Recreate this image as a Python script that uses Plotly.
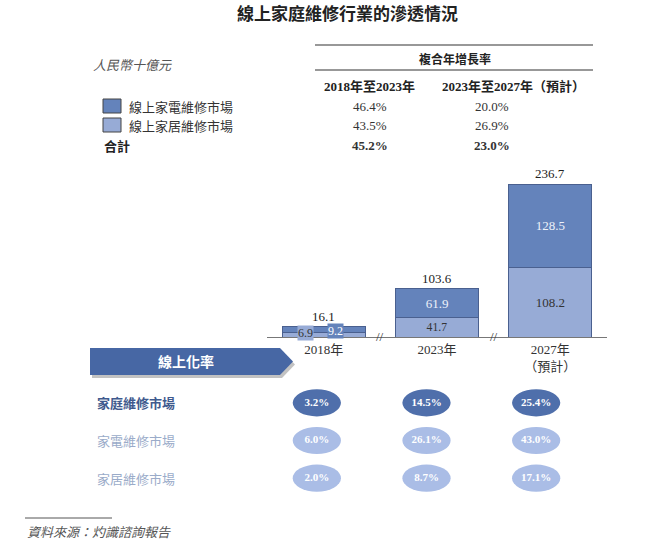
import plotly.graph_objects as go

# ---- data -------------------------------------------------------------
years = ['2018年', '2023年', '2027年']
year_ticks = ['2018年', '2023年', '2027年<br>（預計）']
appliance = [9.2, 61.9, 128.5]      # 線上家電維修市場 (upper segment)
home = [6.9, 41.7, 108.2]           # 線上家居維修市場 (lower segment)
totals = [16.1, 103.6, 236.7]

series_names = ['線上家電維修市場', '線上家居維修市場']
cagr_periods = ['2018年至2023年', '2023年至2027年（預計）']
cagr_appliance = ['46.4%', '20.0%']
cagr_home = ['43.5%', '26.9%']
cagr_total = ['45.2%', '23.0%']

rate_rows = ['家庭維修市場', '家電維修市場', '家居維修市場']
rate_values = [
    ['3.2%', '14.5%', '25.4%'],
    ['6.0%', '26.1%', '43.0%'],
    ['2.0%', '8.7%', '17.1%'],
]

# ---- style ------------------------------------------------------------
W, H = 660, 549
DARK = '#6483bb'
LIGHT = '#97abd6'
EDGE = '#4a608f'
ELL_DARK = '#4f6fab'
ELL_LIGHT = '#aabde6'
SERIF = 'Liberation Serif, Noto Sans CJK TC, serif'
SANS = 'Noto Sans CJK TC, sans-serif'
# per-bar axis ceilings (the chart uses a broken axis between years)
axis_max = [252.0, 336.0, 243.0]


def px(x):
    return x / W


def py(y):
    return 1 - y / H


fig = go.Figure()

# stacked bars, each year on its own (broken) value axis
yrefs = ['y', 'y2', 'y3']
for i, yr in enumerate(years):
    fig.add_trace(go.Bar(
        x=[yr], y=[home[i]], yaxis=yrefs[i], width=0.73,
        marker=dict(color=LIGHT, line=dict(color=EDGE, width=1)),
        text=[f'{home[i]:.1f}'] if i > 0 else None,
        textposition='inside', insidetextanchor='middle',
        textfont=dict(family=SERIF, size=13, color='#333333'),
        showlegend=False, hoverinfo='skip'))
    fig.add_trace(go.Bar(
        x=[yr], y=[appliance[i]], yaxis=yrefs[i], width=0.73,
        marker=dict(color=DARK, line=dict(color=EDGE, width=1)),
        text=[f'{appliance[i]:.1f}'] if i > 0 else None,
        textposition='inside', insidetextanchor='middle',
        textfont=dict(family=SERIF, size=13, color='#eef2fa'),
        showlegend=False, hoverinfo='skip'))

# online-rate text inside the ellipses
for r, row in enumerate(rate_values):
    fig.add_trace(go.Scatter(
        x=years, y=[r] * len(years), xaxis='x2', yaxis='y4',
        mode='text', text=[f'<b>{v}</b>' for v in row],
        textfont=dict(family=SERIF, size=11, color='white'),
        showlegend=False, hoverinfo='skip'))

shapes = []
annotations = []

# ellipses
for r, row in enumerate(rate_values):
    for i in range(len(years)):
        shapes.append(dict(
            type='circle', xref='x2', yref='y4',
            x0=i - 0.22, x1=i + 0.22, y0=r - 0.36, y1=r + 0.36,
            fillcolor=ELL_DARK if r == 0 else ELL_LIGHT,
            line=dict(width=0), layer='below'))

# row labels for the online rate block
row_colors = ['#3f5a8e', '#9aabc9', '#9aabc9']
for r, lab in enumerate(rate_rows):
    annotations.append(dict(
        text=f'<b>{lab}</b>' if r == 0 else lab,
        xref='paper', yref='y4', x=px(95), y=r,
        xanchor='left', yanchor='middle', showarrow=False,
        font=dict(family=SANS, size=13, color=row_colors[r])))

# totals above bars
for i, yr in enumerate(years):
    annotations.append(dict(
        text=f'{totals[i]:.1f}', x=yr, y=totals[i], xref='x', yref=yrefs[i],
        yanchor='bottom', yshift=1, showarrow=False,
        font=dict(family=SERIF, size=13, color='#222222')))

# 2018 segment labels (bar too thin for inside text)
annotations.append(dict(
    text=f'{home[0]:.1f}', x=years[0], y=0, xref='x', yref='y',
    xshift=-18, yshift=4, yanchor='middle', showarrow=False,
    bgcolor=LIGHT, borderpad=0,
    font=dict(family=SERIF, size=12, color='#333333')))
annotations.append(dict(
    text=f'{appliance[0]:.1f}', x=years[0], y=0, xref='x', yref='y',
    xshift=12, yshift=6, yanchor='middle', showarrow=False,
    bgcolor=DARK, borderpad=0,
    font=dict(family=SERIF, size=12, color='white')))

# axis break marks
for xb in [0.5, 1.5]:
    annotations.append(dict(
        text='//', x=xb, y=0, xref='x', yref='y', yanchor='middle',
        showarrow=False, font=dict(family=SERIF, size=13, color='#333333')))

# ---- header block -----------------------------------------------------
annotations.append(dict(
    text='<b>線上家庭維修行業的滲透情況</b>', xref='paper', yref='paper',
    x=px(348), y=py(13), xanchor='center', yanchor='middle', showarrow=False,
    font=dict(family=SANS, size=17, color='#222222')))
annotations.append(dict(
    text='<i>人民幣十億元</i>', xref='paper', yref='paper',
    x=px(91), y=py(65), xanchor='left', yanchor='middle', showarrow=False,
    font=dict(family=SANS, size=13, color='#555555')))

shapes.append(dict(type='line', xref='paper', yref='paper',
                   x0=px(315), x1=px(593), y0=py(45), y1=py(45),
                   line=dict(color='#333333', width=1.2)))
shapes.append(dict(type='line', xref='paper', yref='paper',
                   x0=px(315), x1=px(593), y0=py(70), y1=py(70),
                   line=dict(color='#333333', width=1.2)))
annotations.append(dict(
    text='<b>複合年增長率</b>', xref='paper', yref='paper',
    x=px(455), y=py(58), xanchor='center', yanchor='middle', showarrow=False,
    font=dict(family=SANS, size=12, color='#222222')))

col_x = [370, 513]
val_x = [370, 492]
for j, per in enumerate(cagr_periods):
    annotations.append(dict(
        text=f'<b>{per}</b>', xref='paper', yref='paper',
        x=px(col_x[j]), y=py(87), xanchor='center', yanchor='middle',
        showarrow=False, font=dict(family=SERIF, size=13, color='#222222')))

row_y = [106, 125, 145]
for j in range(2):
    for k, (vals, bold) in enumerate([(cagr_appliance, False),
                                      (cagr_home, False),
                                      (cagr_total, True)]):
        annotations.append(dict(
            text=f'<b>{vals[j]}</b>' if bold else vals[j],
            xref='paper', yref='paper', x=px(val_x[j]), y=py(row_y[k]),
            xanchor='center', yanchor='middle', showarrow=False,
            font=dict(family=SERIF, size=13, color='#333333')))

# legend keys
for k, (name, col) in enumerate(zip(series_names, [DARK, LIGHT])):
    shapes.append(dict(type='rect', xref='paper', yref='paper',
                       x0=px(103), x1=px(121),
                       y0=py(row_y[k] - 7), y1=py(row_y[k] + 7),
                       fillcolor=col, line=dict(color='#444444', width=1)))
    annotations.append(dict(
        text=name, xref='paper', yref='paper', x=px(127), y=py(row_y[k]),
        xanchor='left', yanchor='middle', showarrow=False,
        font=dict(family=SANS, size=13, color='#333333')))
annotations.append(dict(
    text='<b>合計</b>', xref='paper', yref='paper', x=px(102), y=py(146),
    xanchor='left', yanchor='middle', showarrow=False,
    font=dict(family=SANS, size=13, color='#222222')))


# ---- banner arrow -----------------------------------------------------
def arrow_path(dx=0, dy=0):
    pts = [(90, 348), (280, 348), (293, 361.5), (280, 375), (90, 375)]
    return 'M ' + ' L '.join(f'{px(x + dx)},{py(y + dy)}' for x, y in pts) + ' Z'


shapes.append(dict(type='path', xref='paper', yref='paper',
                   path=arrow_path(2, 3), fillcolor='rgba(120,120,120,0.45)',
                   line=dict(width=0)))
shapes.append(dict(type='path', xref='paper', yref='paper',
                   path=arrow_path(), fillcolor='#4767a4',
                   line=dict(width=0)))
annotations.append(dict(
    text='<b>線上化率</b>', xref='paper', yref='paper',
    x=px(186), y=py(361), xanchor='center', yanchor='middle', showarrow=False,
    font=dict(family=SANS, size=14, color='white')))

# ---- footer -----------------------------------------------------------
shapes.append(dict(type='line', xref='paper', yref='paper',
                   x0=px(25), x1=px(112), y0=py(518), y1=py(518),
                   line=dict(color='#555555', width=1)))
annotations.append(dict(
    text='<i>資料來源：灼識諮詢報告</i>', xref='paper', yref='paper',
    x=px(25), y=py(531), xanchor='left', yanchor='middle', showarrow=False,
    font=dict(family=SANS, size=13, color='#555555')))

bar_domain = [py(337), py(180)]
fig.update_layout(
    width=W, height=H,
    margin=dict(l=0, r=0, t=0, b=0),
    paper_bgcolor='white', plot_bgcolor='rgba(0,0,0,0)',
    barmode='stack', showlegend=False,
    xaxis=dict(domain=[px(267), px(607)], type='category',
               categoryorder='array', categoryarray=years,
               range=[-0.5, 2.5], tickvals=years, ticktext=year_ticks,
               showline=True, linecolor='#777777', linewidth=1,
               showgrid=False, zeroline=False, ticks='',
               tickfont=dict(family=SERIF, size=13, color='#333333'),
               anchor='y', fixedrange=True),
    yaxis=dict(domain=bar_domain, range=[0, axis_max[0]], visible=False),
    yaxis2=dict(domain=bar_domain, range=[0, axis_max[1]], visible=False,
                overlaying='y'),
    yaxis3=dict(domain=bar_domain, range=[0, axis_max[2]], visible=False,
                overlaying='y'),
    xaxis2=dict(domain=[px(262), px(591)], type='category',
                categoryorder='array', categoryarray=years,
                range=[-0.5, 2.5], visible=False, anchor='y4'),
    yaxis4=dict(domain=[py(497), py(384)], range=[2.5, -0.5],
                visible=False, anchor='x2'),
    shapes=shapes,
    annotations=annotations,
)

# page has a default 8px body margin; drop it so the figure fills the window
fig.write_html("out.html",
               config={'displayModeBar': False},
               post_script="document.body.style.margin = '0';")
